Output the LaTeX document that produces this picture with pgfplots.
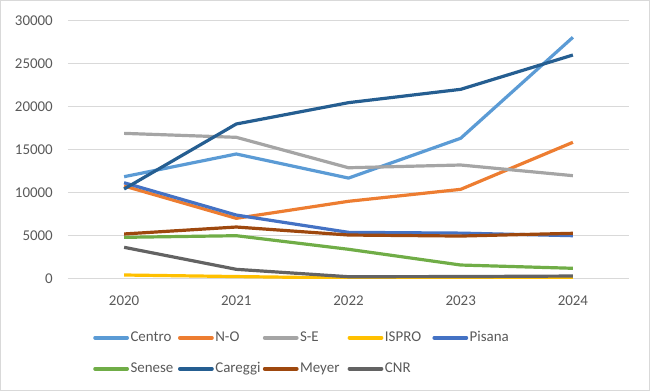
\documentclass[border=0pt]{standalone}
\usepackage{pgfplots}
\pgfplotsset{compat=1.18}
\usepackage{fontspec}
\setmainfont{Carlito}
\definecolor{cCentro}{HTML}{5B9BD5}
\definecolor{cNO}{HTML}{ED7D31}
\definecolor{cSE}{HTML}{A5A5A5}
\definecolor{cISPRO}{HTML}{FFC000}
\definecolor{cPisana}{HTML}{4472C4}
\definecolor{cSenese}{HTML}{70AD47}
\definecolor{cCareggi}{HTML}{255E91}
\definecolor{cMeyer}{HTML}{9E480E}
\definecolor{cCNR}{HTML}{636363}
\definecolor{gridgray}{HTML}{D9D9D9}
\definecolor{labelgray}{HTML}{595959}
\begin{document}
\begin{tikzpicture}
\begin{axis}[
  at={(0,0)}, anchor=south west,
  scale only axis, width=561bp, height=258bp,
  xmin=-0.5, xmax=4.5, ymin=0, ymax=30000,
  xtick={0,1,2,3,4}, xticklabels={2020,2021,2022,2023,2024},
  ytick={0,5000,10000,15000,20000,25000,30000},
  scaled y ticks=false,
  /pgf/number format/1000 sep={},
  /pgf/number format/assume math mode=true,
  ymajorgrids, grid style={color=gridgray, line width=1bp},
  axis line style={draw=none}, major tick length=0pt,
  tick label style={font=\fontsize{15}{18}\selectfont, text=labelgray},
  yticklabel style={anchor=east, inner xsep=0pt, xshift=-15bp},
  xticklabel style={anchor=north, inner ysep=0pt, yshift=-17bp},
  every axis plot/.append style={line width=3.2bp, line join=round, mark=none},
  legend image code/.code={\draw[#1, line width=3.8bp, line cap=round] (0bp,0bp) -- (32bp,0bp);},
  legend columns=5,
  legend style={at={(axis description cs:0.0446,-0.203)}, anchor=north west,
    draw=none, fill=none, inner sep=0pt, row sep=18bp,
    font=\fontsize{15}{18}\selectfont, text=labelgray,
    nodes={inner xsep=1.5bp, inner ysep=0pt, text width=46bp, align=left, text height=10bp, text depth=3bp}},
]
\addplot[cCentro] coordinates {(0,11860) (1,14500) (2,11700) (3,16330) (4,28070)};
\addlegendentry{Centro}
\addplot[cNO] coordinates {(0,10780) (1,7020) (2,9000) (3,10390) (4,15860)};
\addlegendentry{N-O}
\addplot[cSE] coordinates {(0,16900) (1,16440) (2,12900) (3,13220) (4,11980)};
\addlegendentry{S-E}
\addplot[cISPRO] coordinates {(0,430) (1,250) (2,80) (3,60) (4,40)};
\addlegendentry{ISPRO}
\addplot[cPisana] coordinates {(0,11160) (1,7400) (2,5390) (3,5300) (4,5000)};
\addlegendentry{Pisana}
\addplot[cSenese] coordinates {(0,4810) (1,5000) (2,3420) (3,1590) (4,1210)};
\addlegendentry{Senese}
\addplot[cCareggi] coordinates {(0,10430) (1,17990) (2,20470) (3,22020) (4,26010)};
\addlegendentry{Careggi}
\addplot[cMeyer] coordinates {(0,5200) (1,6010) (2,5080) (3,4960) (4,5280)};
\addlegendentry{Meyer}
\addplot[cCNR] coordinates {(0,3650) (1,1090) (2,230) (3,250) (4,310)};
\addlegendentry{CNR}
\end{axis}
\draw[gridgray, line width=1.5bp] (-67.25bp,-111.55bp) rectangle (581.25bp,277.95bp);
\useasboundingbox (-68bp,-112.3bp) rectangle (582bp,278.7bp);
\end{tikzpicture}
\end{document}
